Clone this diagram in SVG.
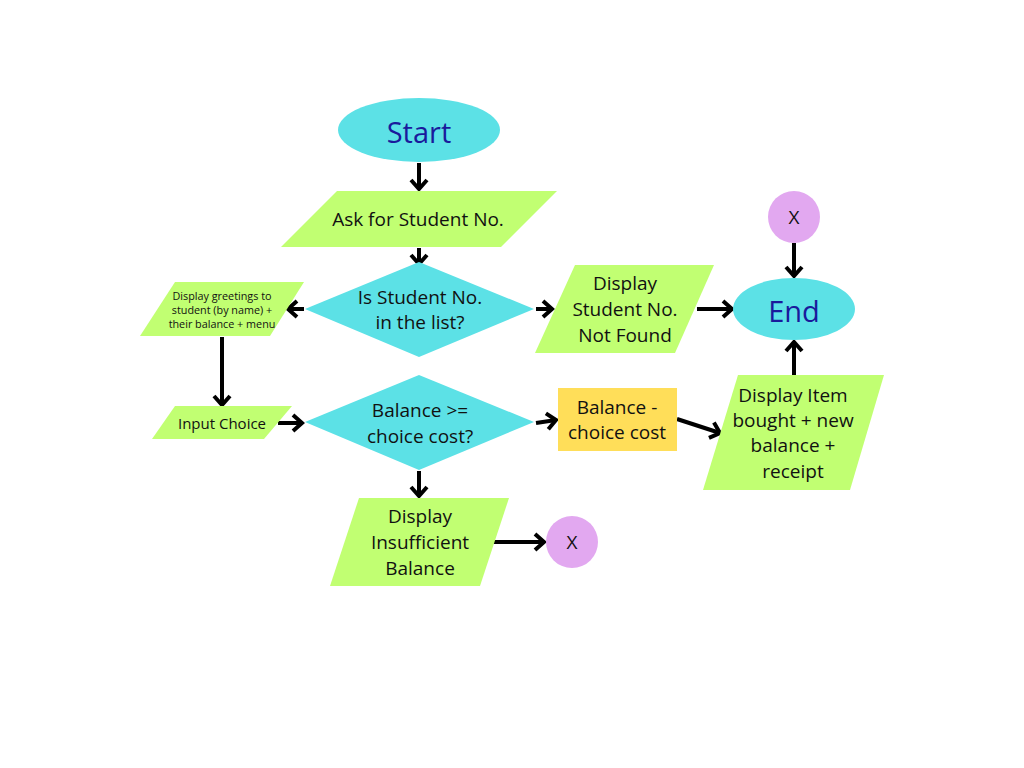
<svg xmlns="http://www.w3.org/2000/svg" width="1024" height="768" viewBox="0 0 1024 768">
<style>
.term{fill:#5ce1e6}
.io{fill:#c1ff72}
.dec{fill:#5ce1e6}
.proc{fill:#ffde59}
.conn{fill:#e2a8f0}
text{font-family:"Open Sans","Liberation Sans",sans-serif;fill:#111;text-anchor:middle;dominant-baseline:central}
.tt{fill:#1a1a9c;font-size:29px}
.t18{font-size:19px}
.t11{font-size:10.8px}
.t14{font-size:15px}
.edge{stroke:#000;stroke-width:4;fill:none;marker-end:url(#ah)}
</style>
<defs>
<marker id="ah" viewBox="0 0 16 20" refX="13" refY="10" markerWidth="16" markerHeight="20" markerUnits="userSpaceOnUse" orient="auto">
<path d="M4,2 L13,10 L4,18" fill="none" stroke="#000" stroke-width="4" stroke-linejoin="miter" stroke-linecap="butt"/>
</marker>
</defs>
<rect width="1024" height="768" fill="#fff"/>
<g id="connectors">
<line class="edge" x1="419" y1="163" x2="419" y2="189"/>
<line class="edge" x1="419" y1="248" x2="419" y2="264"/>
<line class="edge" x1="304" y1="309" x2="288" y2="309"/>
<line class="edge" x1="536" y1="309" x2="552" y2="309"/>
<line class="edge" x1="697" y1="309" x2="732" y2="309"/>
<line class="edge" x1="794" y1="243" x2="794" y2="276"/>
<line class="edge" x1="794" y1="375" x2="794" y2="342"/>
<line class="edge" x1="222" y1="337" x2="222" y2="405"/>
<line class="edge" x1="278" y1="423" x2="302" y2="423"/>
<line class="edge" x1="536" y1="423" x2="556" y2="420"/>
<line class="edge" x1="677" y1="419" x2="720" y2="433"/>
<line class="edge" x1="419" y1="471" x2="419" y2="496"/>
<line class="edge" x1="491" y1="542" x2="544" y2="542"/>
</g>
<g id="start">
<ellipse class="term" cx="419" cy="130" rx="81" ry="32"/>
<text class="tt" x="419" y="131">Start</text>
</g>
<g id="ask">
<polygon class="io" points="337,191 557,191 501,247 281,247"/>
<text class="t18" x="418" y="219">Ask for Student No.</text>
</g>
<g id="check-student">
<polygon class="dec" points="419,262 534,309 419,357 305,309"/>
<text class="t18" x="420" y="297">Is Student No.</text>
<text class="t18" x="420" y="322">in the list?</text>
</g>
<g id="greetings">
<polygon class="io" points="175,282 304,282 270,336 140,336"/>
<text class="t11" x="222" y="295">Display greetings to</text>
<text class="t11" x="222" y="309">student (by name) +</text>
<text class="t11" x="222" y="323">their balance + menu</text>
</g>
<g id="not-found">
<polygon class="io" points="575,265 714,265 675,353 535,353"/>
<text class="t18" x="625" y="283">Display</text>
<text class="t18" x="625" y="309">Student No.</text>
<text class="t18" x="625" y="335">Not Found</text>
</g>
<g id="end">
<ellipse class="term" cx="794" cy="309" rx="61" ry="31"/>
<text class="tt" x="794" y="310">End</text>
</g>
<g id="x-top">
<circle class="conn" cx="794" cy="217" r="26"/>
<text class="t18" x="794" y="217">X</text>
</g>
<g id="input-choice">
<polygon class="io" points="175,406 292,406 264,439 152,439"/>
<text class="t14" x="222" y="423">Input Choice</text>
</g>
<g id="check-balance">
<polygon class="dec" points="419,375 534,422 419,470 305,422"/>
<text class="t18" x="420" y="410">Balance &gt;=</text>
<text class="t18" x="420" y="436">choice cost?</text>
</g>
<g id="subtract">
<rect class="proc" x="558" y="388" width="119" height="63"/>
<text class="t18" x="617" y="407">Balance -</text>
<text class="t18" x="617" y="432">choice cost</text>
</g>
<g id="display-item">
<polygon class="io" points="738,375 884,375 850,490 703,490"/>
<text class="t18" x="793" y="395">Display Item</text>
<text class="t18" x="793" y="420">bought + new</text>
<text class="t18" x="793" y="445">balance +</text>
<text class="t18" x="793" y="471">receipt</text>
</g>
<g id="insufficient">
<polygon class="io" points="359,498 509,498 480,586 330,586"/>
<text class="t18" x="420" y="516">Display</text>
<text class="t18" x="420" y="542">Insufficient</text>
<text class="t18" x="420" y="568">Balance</text>
</g>
<g id="x-bottom">
<circle class="conn" cx="572" cy="542" r="26"/>
<text class="t18" x="572" y="542">X</text>
</g>
</svg>
